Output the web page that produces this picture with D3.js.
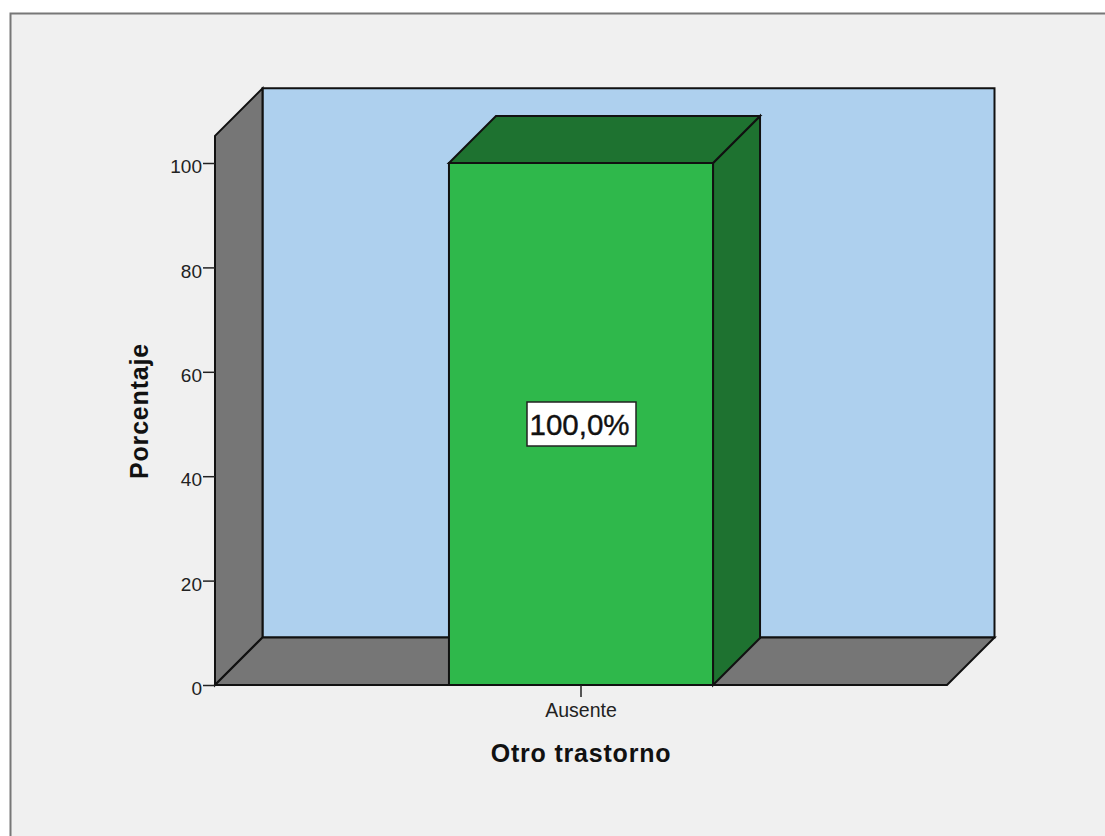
<!DOCTYPE html>
<html><head><meta charset="utf-8">
<script src="https://cdn.jsdelivr.net/npm/d3@7"></script>
<style>
html,body{margin:0;padding:0;background:#fff;overflow:hidden}
svg{display:block}
text{font-family:"Liberation Sans",Arial,sans-serif;fill:#111}
</style></head><body>
<svg id="c" width="1105" height="836"></svg>
<script>
const categories = ["Ausente"];
const values = [100];
const valueLabels = ["100,0%"];
const yTicks = [0,20,40,60,80,100];
const xTitle = "Otro trastorno";
const yTitle = "Porcentaje";

const svg = d3.select("#c");
const depth = 47.5, barDepth = 47;
const left = 215, right = 947, base = 685;
const y = d3.scaleLinear().domain([0,100]).range([685,163]);
const x = d3.scaleBand().domain(categories).range([left,right]).paddingInner(0).paddingOuter(0.886);
const topVal = 105.2;
const ink = "#111";

svg.append("rect").attr("x",10.5).attr("y",13.5).attr("width",1200).attr("height",900)
  .attr("fill","#f0f0f0").attr("stroke","#777").attr("stroke-width",2);

const poly = (pts,fill,sw=2)=>svg.append("polygon").attr("points",pts.map(p=>p.join(",")).join(" "))
  .attr("fill",fill).attr("stroke",ink).attr("stroke-width",sw).attr("stroke-linejoin","miter");

poly([[left+depth,y(topVal)-depth],[right+depth,y(topVal)-depth],[right+depth,y(0)-depth],[left+depth,y(0)-depth]],"#aed0ee");
poly([[left,y(topVal)],[left+depth,y(topVal)-depth],[left+depth,y(0)-depth],[left,y(0)]],"#767676");
poly([[left,y(0)],[left+depth,y(0)-depth],[right+depth,y(0)-depth],[right,y(0)]],"#767676");

categories.forEach((c,i)=>{
  const x0=x(c), x1=x0+x.bandwidth(), yt=y(values[i]), yb=y(0);
  poly([[x1,yt],[x1+barDepth,yt-barDepth],[x1+barDepth,yb-barDepth],[x1,yb]],"#1e7230");
  poly([[x0,yt],[x0+barDepth,yt-barDepth],[x1+barDepth,yt-barDepth],[x1,yt]],"#1e7230");
  poly([[x0,yt],[x1,yt],[x1,yb],[x0,yb]],"#2fb84b");
  const cx=(x0+x1)/2+0.5, cy=y(values[i]/2);
  svg.append("rect").attr("x",cx-54.5).attr("y",cy-22).attr("width",109).attr("height",44)
    .attr("fill","#fff").attr("stroke","#222").attr("stroke-width",1.5);
  svg.append("text").attr("x",cx-2).attr("y",cy+11).attr("text-anchor","middle")
    .style("font-size","29.5px").style("stroke","#111").style("stroke-width","0.4").text(valueLabels[i]);
});

const ay = svg.append("g").attr("transform",`translate(${left},0)`)
  .call(d3.axisLeft(y).tickValues(yTicks).tickSize(12).tickPadding(1).tickSizeOuter(0));
ay.select(".domain").remove();
ay.selectAll("line").attr("stroke","#222").attr("stroke-width",1.5);
ay.selectAll("text").style("font-size","19px").style("fill","#222").attr("dy","0.62em").attr("y",-2);

const ax = svg.append("g").attr("transform",`translate(0,${base})`)
  .call(d3.axisBottom(x).tickSize(12).tickPadding(6).tickSizeOuter(0));
ax.select(".domain").attr("stroke",ink).attr("stroke-width",2).attr("d",`M${left},0H${right}`);
ax.selectAll("line").attr("stroke","#222").attr("stroke-width",1.5);
ax.selectAll("text").style("font-size","19.5px").style("fill","#222");

svg.append("text").attr("x",581).attr("y",762).attr("text-anchor","middle")
  .style("font-size","25px").style("font-weight","bold").style("letter-spacing","0.8px").text(xTitle);
svg.append("text").attr("transform","translate(148,411) rotate(-90)").attr("text-anchor","middle")
  .style("font-size","25px").style("font-weight","bold").style("letter-spacing","0.8px").text(yTitle);
</script></body></html>
